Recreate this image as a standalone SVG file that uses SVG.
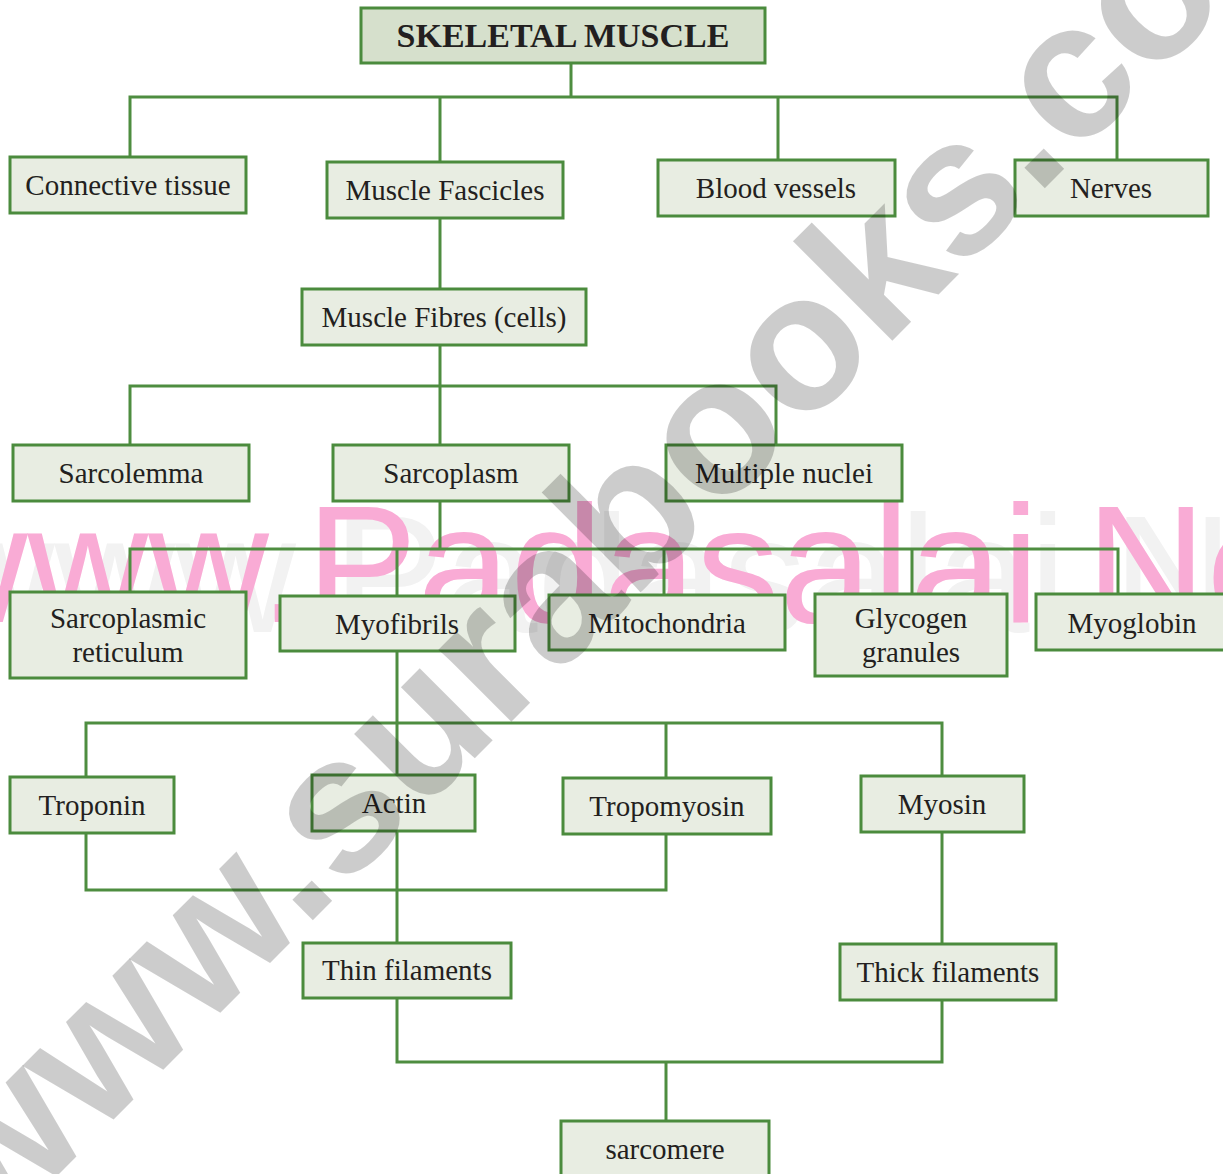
<svg xmlns="http://www.w3.org/2000/svg" width="1223" height="1174" viewBox="0 0 1223 1174">
<style>
.box{fill:#e8ede2;stroke:#4b8b3d;stroke-width:3}
.title{fill:#d6e0cc;stroke:#4b8b3d;stroke-width:3}
.lbl{font-family:"Liberation Serif","Times New Roman",serif;font-size:29px;fill:#231f20;text-anchor:middle}
.ttl{font-family:"Liberation Serif","Times New Roman",serif;font-size:34px;font-weight:bold;fill:#231f20;text-anchor:middle}
.con{fill:none;stroke:#4e8d40;stroke-width:3}
.wm1{font-family:"Liberation Sans",Arial,sans-serif;font-size:167px;fill:#f9abd5}
.wm1s{font-family:"Liberation Sans",Arial,sans-serif;font-size:167px;fill:#f2f2f2}
.wm2{font-family:"Liberation Sans",Arial,sans-serif;font-size:194px;font-weight:bold;fill:#000;fill-opacity:0.2}
</style>
<rect width="1223" height="1174" fill="#ffffff"/>
<g id="watermark-padasalai">
<text class="wm1s" x="-66" y="632">www.Padasalai.Net</text>
<text class="wm1" x="-93" y="622">www.Padasalai.Net</text>
</g>
<g id="connectors">
<path class="con" d="M571,62 V97 M130,157 V97 H1117 V160 M440,97 V162 M778,97 V160"/>
<path class="con" d="M440,218 V289"/>
<path class="con" d="M440,345 V445 M130,445 V386 H776 V445"/>
<path class="con" d="M440,501 V549 M130,592 V549 H1118 V594 M397,549 V596 M664,549 V595 M912,549 V594"/>
<path class="con" d="M397,651 V943 M86,777 V723 H942 V776 M666,723 V778"/>
<path class="con" d="M86,833 V890 H666 V834"/>
<path class="con" d="M942,832 V944"/>
<path class="con" d="M397,998 V1062 H942 V1000 M666,1062 V1121"/>
</g>
<g id="n-skeletal"><rect class="title" x="361" y="8" width="404" height="55"/><text class="ttl" x="563" y="47">SKELETAL MUSCLE</text></g>
<g id="n-connective"><rect class="box" x="10" y="157" width="236" height="56"/><text class="lbl" x="128" y="195">Connective tissue</text></g>
<g id="n-fascicles"><rect class="box" x="327" y="162" width="236" height="56"/><text class="lbl" x="445" y="200">Muscle Fascicles</text></g>
<g id="n-blood"><rect class="box" x="658" y="160" width="237" height="56"/><text class="lbl" x="776" y="198">Blood vessels</text></g>
<g id="n-nerves"><rect class="box" x="1015" y="160" width="193" height="56"/><text class="lbl" x="1111" y="198">Nerves</text></g>
<g id="n-fibres"><rect class="box" x="302" y="289" width="284" height="56"/><text class="lbl" x="444" y="327">Muscle Fibres (cells)</text></g>
<g id="n-sarcolemma"><rect class="box" x="13" y="445" width="236" height="56"/><text class="lbl" x="131" y="483">Sarcolemma</text></g>
<g id="n-sarcoplasm"><rect class="box" x="333" y="445" width="236" height="56"/><text class="lbl" x="451" y="483">Sarcoplasm</text></g>
<g id="n-nuclei"><rect class="box" x="666" y="445" width="236" height="56"/><text class="lbl" x="784" y="483">Multiple nuclei</text></g>
<g id="n-sr"><rect class="box" x="10" y="592" width="236" height="86"/><text class="lbl" x="128" y="628">Sarcoplasmic</text><text class="lbl" x="128" y="662">reticulum</text></g>
<g id="n-myofibrils"><rect class="box" x="280" y="596" width="235" height="55"/><text class="lbl" x="397" y="634">Myofibrils</text></g>
<g id="n-mito"><rect class="box" x="549" y="595" width="236" height="55"/><text class="lbl" x="667" y="633">Mitochondria</text></g>
<g id="n-glycogen"><rect class="box" x="815" y="594" width="192" height="82"/><text class="lbl" x="911" y="628">Glycogen</text><text class="lbl" x="911" y="662">granules</text></g>
<g id="n-myoglobin"><rect class="box" x="1036" y="594" width="190" height="56"/><text class="lbl" x="1132" y="633">Myoglobin</text></g>
<g id="n-troponin"><rect class="box" x="10" y="777" width="164" height="56"/><text class="lbl" x="92" y="815">Troponin</text></g>
<g id="n-actin"><rect class="box" x="312" y="775" width="163" height="56"/><text class="lbl" x="394" y="813">Actin</text></g>
<g id="n-tropomyosin"><rect class="box" x="563" y="778" width="208" height="56"/><text class="lbl" x="667" y="816">Tropomyosin</text></g>
<g id="n-myosin"><rect class="box" x="861" y="776" width="163" height="56"/><text class="lbl" x="942" y="814">Myosin</text></g>
<g id="n-thin"><rect class="box" x="303" y="943" width="208" height="55"/><text class="lbl" x="407" y="980">Thin filaments</text></g>
<g id="n-thick"><rect class="box" x="840" y="944" width="216" height="56"/><text class="lbl" x="948" y="982">Thick filaments</text></g>
<g id="n-sarcomere"><rect class="box" x="561" y="1121" width="208" height="58"/><text class="lbl" x="665" y="1159">sarcomere</text></g>
<g id="watermark-surabooks">
<text class="wm2" transform="translate(328,905) rotate(-45)" x="-480" y="0">www.surabooks.com</text>
</g>
</svg>
